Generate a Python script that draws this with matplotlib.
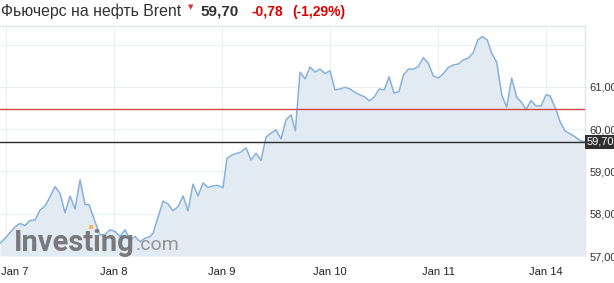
import matplotlib
matplotlib.use("Agg")
import matplotlib.pyplot as plt
import matplotlib.transforms as mtransforms
from matplotlib.patches import Rectangle

plt.rcParams['font.family'] = ['Liberation Sans', 'DejaVu Sans']

# time in trading days from Jan 7 (0 = Jan 7, 5 = Jan 14), hourly-ish points
t = [-0.056, 0.006, 0.083, 0.130, 0.176, 0.222, 0.269, 0.315, 0.361, 0.407,
     0.454, 0.500, 0.546, 0.593, 0.639, 0.685, 0.731, 0.769, 0.824, 0.870,
     0.917, 0.963, 1.009, 1.056, 1.102, 1.148, 1.194, 1.241, 1.287, 1.333,
     1.361, 1.454, 1.500, 1.546, 1.593, 1.639, 1.685, 1.731, 1.778, 1.824,
     1.870, 1.917, 1.963, 2.009, 2.046, 2.093, 2.139, 2.176, 2.222, 2.269,
     2.315, 2.361, 2.407, 2.454, 2.500, 2.546, 2.593, 2.639, 2.679, 2.722,
     2.769, 2.815, 2.861, 2.907, 2.954, 3.000, 3.046, 3.093, 3.139, 3.185,
     3.231, 3.278, 3.324, 3.364, 3.410, 3.456, 3.503, 3.546, 3.593, 3.639,
     3.679, 3.725, 3.771, 3.818, 3.864, 3.910, 3.956, 4.003, 4.049, 4.095,
     4.142, 4.188, 4.234, 4.280, 4.327, 4.368, 4.410, 4.456, 4.497, 4.544,
     4.590, 4.636, 4.682, 4.729, 4.775, 4.815, 4.861, 4.907, 4.954, 5.000,
     5.037, 5.093, 5.130, 5.176, 5.222, 5.269, 5.315, 5.355]
price = [57.30, 57.46, 57.69, 57.77, 57.72, 57.84, 57.85, 58.09, 58.18, 58.40,
         58.64, 58.48, 58.02, 58.42, 58.11, 58.80, 58.22, 58.21, 57.81, 57.50,
         57.51, 57.62, 57.58, 57.46, 57.62, 57.38, 57.46, 57.34, 57.42, 57.46,
         57.54, 58.30, 58.23, 58.07, 58.17, 58.42, 58.07, 58.70, 58.42, 58.73,
         58.62, 58.66, 58.67, 58.61, 59.31, 59.39, 59.43, 59.46, 59.56, 59.27,
         59.43, 59.26, 59.81, 59.91, 59.98, 59.77, 60.22, 60.34, 59.96, 61.35,
         61.19, 61.47, 61.35, 61.42, 61.32, 61.38, 60.93, 60.95, 60.99, 60.95,
         60.87, 60.81, 60.76, 60.67, 60.76, 60.95, 60.93, 61.24, 60.85, 60.89,
         61.28, 61.42, 61.42, 61.48, 61.69, 61.56, 61.26, 61.21, 61.31, 61.46,
         61.52, 61.54, 61.64, 61.68, 61.81, 62.11, 62.19, 62.11, 61.80, 61.58,
         60.81, 60.52, 61.21, 60.75, 60.63, 60.46, 60.68, 60.55, 60.55, 60.81,
         60.79, 60.46, 60.18, 59.96, 59.89, 59.82, 59.73, 59.70]

day_labels = ["Jan 7", "Jan 8", "Jan 9", "Jan 10", "Jan 11", "Jan 14"]
y_ticks = [57, 58, 59, 60, 61, 62]
last = 59.70
prev_close = 60.48
change = -0.78
change_pct = -1.29

fig = plt.figure(figsize=(6.14, 2.83), dpi=100)
ax = fig.add_axes([0, 27 / 283, 585 / 614, 230 / 283])

ax.fill_between(t, price, 57, color="#e3ebf2", lw=0, zorder=1)
ax.plot(t, price, color="#86b1db", lw=1.1, zorder=3)
ax.axhline(prev_close, color="#cf4b48", lw=1, zorder=4)
ax.axhline(last, color="#2b2b2b", lw=1, zorder=4)

ax.set_xlim(-0.056, 5.361)
ax.set_ylim(57.0, 62.44)

ax.set_xticks(range(len(day_labels)))
ax.set_xticklabels(day_labels, fontsize=8, color="#222")
ax.set_yticks(y_ticks)
ax.set_yticklabels([f"{v:.2f}".replace(".", ",") if v < 62 else "" for v in y_ticks],
                   fontsize=8, color="#333")
ax.yaxis.tick_right()
ax.tick_params(axis="both", length=0)
ax.tick_params(axis="x", pad=8)
ax.tick_params(axis="y", pad=3)
ax.get_xticklabels()[0].set_horizontalalignment("left")
off = mtransforms.ScaledTranslation(-5 / 100, 0, fig.dpi_scale_trans)
ax.get_xticklabels()[0].set_transform(ax.get_xticklabels()[0].get_transform() + off)

ax.grid(True, color="#eceff4", lw=0.8, zorder=0)
ax.set_axisbelow(True)
for s in ["left", "bottom"]:
    ax.spines[s].set_visible(False)
for s in ["top", "right"]:
    ax.spines[s].set_color("#e4e6ee")
    ax.spines[s].set_linewidth(1)

# last price badge
trans = mtransforms.blended_transform_factory(ax.transAxes, ax.transData)
ax.text(1.003, last, f"{last:.2f}".replace(".", ","), transform=trans, fontsize=8,
        color="white", va="center", ha="left", zorder=6,
        bbox=dict(boxstyle="square,pad=0.2", facecolor="#2f2f2f", edgecolor="none"))

# watermark
fig.text(14 / 614, 1 - 251 / 283, "Investing", family="Roboto", fontweight="bold",
         fontsize=21, color="#6c6d70", alpha=0.9, zorder=5)
fig.text(136 / 614, 1 - 250 / 283, ".com", family="Roboto", fontsize=14,
         color="#8a8b8e", alpha=0.9, zorder=5)
fig.patches.append(Rectangle((89 / 614, 1 - 229 / 283), 4 / 614, 4 / 283,
                             transform=fig.transFigure, facecolor="#f6b25a",
                             edgecolor="none", zorder=6))

# header
fig.text(1 / 614, 1 - 16 / 283, "Фьючерс на нефть Brent", fontsize=11.4, color="#333")
fig.text(188 / 614, 1 - 9 / 283, "▼", family="DejaVu Sans", fontsize=5, color="#e03030")
fig.text(200 / 614, 1 - 16 / 283, f"{last:.2f}".replace(".", ","), fontsize=11,
         fontweight="bold", color="#333")
fig.text(251 / 614, 1 - 16 / 283, f"{change:.2f}".replace(".", ","), fontsize=10,
         fontweight="bold", color="#e00000")
fig.text(292 / 614, 1 - 16 / 283, f"({change_pct:.2f}%)".replace(".", ","), fontsize=10,
         fontweight="bold", color="#e00000")

fig.savefig("out.png", dpi=100)
